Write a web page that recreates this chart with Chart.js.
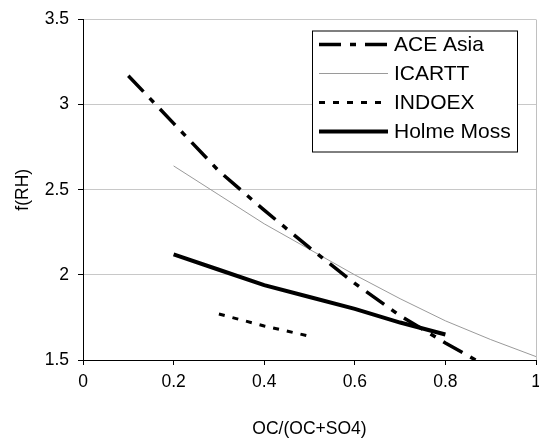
<!DOCTYPE html>
<html>
<head>
<meta charset="utf-8">
<script src="https://cdn.jsdelivr.net/npm/chart.js@4"></script>
<style>
  html, body { margin: 0; padding: 0; background: #fff; }
  #wrap { width: 539px; height: 438px; }
</style>
</head>
<body>
<div id="wrap"><canvas id="frh"></canvas></div>
<script>
// values
const aceX = [0.1, 0.2, 0.3, 0.4, 0.5, 0.6, 0.7, 0.8, 0.9];
const aceY = [3.17, 2.89, 2.61, 2.38, 2.16, 1.95, 1.76, 1.6, 1.45];
const icarttX = [0.2, 0.3, 0.4, 0.5, 0.6, 0.7, 0.8, 0.9, 1.0];
const icarttY = [2.64, 2.47, 2.3, 2.15, 2.0, 1.86, 1.73, 1.62, 1.52];
const indoexX = [0.3, 0.4, 0.5];
const indoexY = [1.77, 1.7, 1.64];
const holmeX = [0.2, 0.3, 0.4, 0.5, 0.6, 0.7, 0.8];
const holmeY = [2.12, 2.03, 1.94, 1.87, 1.8, 1.72, 1.65];
const seriesNames = ['ACE Asia', 'ICARTT', 'INDOEX', 'Holme Moss'];

const pts = (xs, ys) => xs.map((x, i) => ({ x: x, y: ys[i] }));
const FONT = 'Liberation Sans, Arial, sans-serif';
const fmt = v => String(parseFloat(Number(v).toFixed(1)));

// legend box drawn inside the plot, like the Excel original
const boxLegend = {
  id: 'boxLegend',
  afterDatasetsDraw(chart) {
    const ctx = chart.ctx;
    const area = chart.chartArea;
    const x0 = area.right - 224, y0 = area.top + 11, w = 205, h = 121;
    ctx.save();
    ctx.fillStyle = '#fff';
    ctx.fillRect(x0, y0, w, h);
    ctx.strokeStyle = '#000';
    ctx.lineWidth = 1;
    ctx.setLineDash([]);
    ctx.strokeRect(x0 + 0.5, y0 + 0.5, w, h);
    ctx.font = '21px ' + FONT;
    ctx.textBaseline = 'middle';
    ctx.fillStyle = '#000';
    chart.data.datasets.forEach((ds, i) => {
      const y = y0 + 14 + i * 29;
      ctx.beginPath();
      ctx.strokeStyle = ds.borderColor;
      ctx.lineWidth = ds.borderWidth;
      ctx.setLineDash(ds.borderDash || []);
      ctx.moveTo(x0 + 7, y);
      ctx.lineTo(x0 + 76, y);
      ctx.stroke();
      ctx.setLineDash([]);
      ctx.fillText(ds.label, x0 + 82, y + 1);
    });
    ctx.restore();
  }
};

new Chart(document.getElementById('frh'), {
  type: 'line',
  data: {
    datasets: [
      { label: seriesNames[0], data: pts(aceX, aceY), borderColor: '#000', borderWidth: 3.5, borderDash: [22, 9, 6, 9] },
      { label: seriesNames[1], data: pts(icarttX, icarttY), borderColor: '#9a9a9a', borderWidth: 1 },
      { label: seriesNames[2], data: pts(indoexX, indoexY), borderColor: '#000', borderWidth: 3, borderDash: [6, 8] },
      { label: seriesNames[3], data: pts(holmeX, holmeY), borderColor: '#000', borderWidth: 4 }
    ]
  },
  options: {
    responsive: true,
    maintainAspectRatio: false,
    animation: false,
    layout: { padding: { top: 18, right: 3, left: 0, bottom: 0 } },
    elements: { point: { radius: 0 }, line: { tension: 0, fill: false } },
    datasets: { line: { clip: 0 } },
    plugins: { legend: { display: false }, tooltip: { enabled: false } },
    scales: {
      x: {
        type: 'linear',
        min: 0, max: 1,
        ticks: {
          stepSize: 0.2, color: '#000', padding: 7,
          font: { family: FONT, size: 17.5 },
          callback: fmt
        },
        grid: {
          color: c => (c.tick && c.tick.value === 1 ? '#c0c0c0' : 'rgba(0,0,0,0)'),
          tickColor: '#000', tickLength: 5
        },
        border: { color: '#000', width: 1 },
        title: {
          display: true, text: 'OC/(OC+SO4)', color: '#000',
          font: { family: FONT, size: 17.5, lineHeight: 1 },
          padding: { top: 0, bottom: 0 }
        },
        afterFit: s => { s.height = 78; s.paddingRight = 0; s.paddingLeft = 0; }
      },
      y: {
        min: 1.5, max: 3.5,
        ticks: {
          stepSize: 0.5, color: '#000', padding: 9,
          font: { family: FONT, size: 17.5 },
          callback: fmt
        },
        grid: { color: '#c8c8c8', tickColor: '#000', tickLength: 5 },
        border: { color: '#000', width: 1 },
        title: {
          display: true, text: 'f(RH)', color: '#000',
          font: { family: FONT, size: 17.5, lineHeight: 1 },
          padding: { top: 14, bottom: 0 }
        },
        afterFit: s => { s.width = 83; }
      }
    }
  },
  plugins: [boxLegend]
});
</script>
</body>
</html>
